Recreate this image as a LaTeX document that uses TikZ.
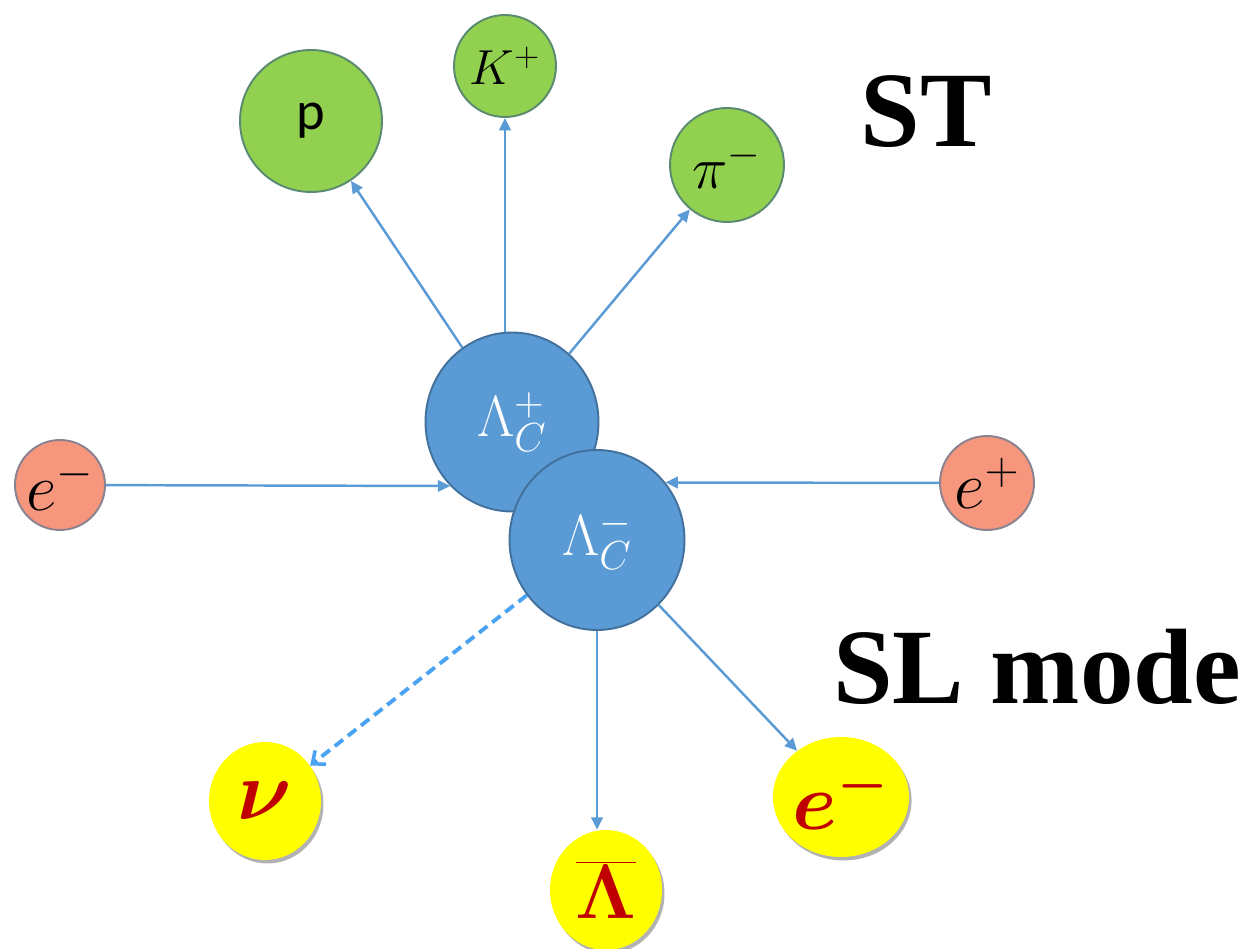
\documentclass[tikz,border=0pt]{standalone}
\usepackage{fix-cm}
\usepackage[no-math]{fontspec}
\usepackage{bm}
\usetikzlibrary{arrows.meta,shapes.geometric,shadows}
\newfontfamily\carlito{Carlito}
\newfontfamily\tnr{Liberation Serif}
\definecolor{gfill}{HTML}{92D050}
\definecolor{gdraw}{HTML}{5A8A70}
\definecolor{bfill}{HTML}{5B9BD5}
\definecolor{bdraw}{HTML}{41719C}
\definecolor{ofill}{HTML}{F6967C}
\definecolor{odraw}{HTML}{8A8290}
\definecolor{yfill}{HTML}{FFFF00}
\definecolor{ytext}{HTML}{C00000}
\definecolor{arrc}{HTML}{5B9BD5}
\definecolor{dashc}{HTML}{4AA3F2}
\tikzset{
  green/.style={circle,inner sep=0pt,fill=gfill,draw=gdraw,line width=1.1pt},
  bluenode/.style={ellipse,inner sep=0pt,fill=bfill,draw=bdraw,line width=1.1pt,text=white},
  orange/.style={circle,inner sep=0pt,fill=ofill,draw=odraw,line width=1.1pt},
  yellownode/.style={ellipse,inner sep=0pt,fill=yfill,text=ytext,
    drop shadow={shadow xshift=0.05cm,shadow yshift=-0.07cm,opacity=0.3,fill=black}},
  arr/.style={draw=arrc,line width=1.4pt,-{Triangle[length=7pt,width=6.5pt]}},
  dasharr/.style={draw=dashc,line width=2.2pt,dash pattern=on 6pt off 3.5pt,
    -{Straight Barb[length=6pt,width=10pt,line width=2pt]}},
  bigtext/.style={font=\tnr\bfseries\fontsize{61}{70}\selectfont,anchor=base}
}
\begin{document}
\begin{tikzpicture}[x=0.02cm,y=-0.02cm]
\useasboundingbox[fill=white] (0,0) rectangle (1247,949);
% green products
\node[green,minimum size=2.84cm,font=\carlito\fontsize{31}{36}\selectfont] (p) at (311,121) {p};
\node[green,minimum size=2.04cm,font=\fontsize{28}{32}\selectfont] (K) at (505,66) {$K^{+}$};
\node[green,minimum size=2.28cm,font=\fontsize{34}{38}\selectfont] (pi) at (727,165) {$\pi^{-}$};
% Lambda_c pair
\node[bluenode,minimum width=3.46cm,minimum height=3.58cm,font=\fontsize{33}{38}\selectfont] (lp) at (512,422) {$\Lambda_{C}^{+}$};
\node[bluenode,minimum width=3.5cm,minimum height=3.6cm,font=\fontsize{33}{38}\selectfont] (lm) at (597,540) {$\Lambda_{C}^{-}$};
% beams
\node[orange,minimum size=1.8cm,font=\fontsize{38}{44}\selectfont] (em) at (60,485) {$e^{-}$};
\node[orange,minimum size=1.88cm,font=\fontsize{38}{44}\selectfont] (ep) at (987,483) {$e^{+}$};
% SL products
\node[yellownode,minimum width=2.24cm,minimum height=2.36cm,font=\fontsize{48}{56}\selectfont] (nu) at (265,801) {$\bm{\nu}$};
\node[yellownode,minimum width=2.24cm,minimum height=2.4cm,font=\fontsize{44}{52}\selectfont] (lbar) at (606,890) {$\overline{\mathbf{\Lambda}}$};
\node[yellownode,minimum width=2.26cm,minimum height=2.4cm,font=\fontsize{46}{54}\selectfont] (eb) at (841,797) {$\bm{e}^{\bm{-}}$};
% labels
\node[bigtext] (st) at (926,147) {ST};
\node[bigtext] (sl) at (1037,703) {SL mode};
% connectors
\draw[arr] (lp) -- (p);
\draw[arr] (lp.north -| K) -- (K);
\draw[arr] (lp) -- (pi);
\draw[arr] (em) -- (lp.226);
\draw[arr] (ep) -- (lm.40);
\draw[dasharr] (lm) -- (nu);
\draw[arr] (lm.south) -- (lm.south |- lbar.north);
\draw[arr] (lm) -- (eb);
\end{tikzpicture}
\end{document}
